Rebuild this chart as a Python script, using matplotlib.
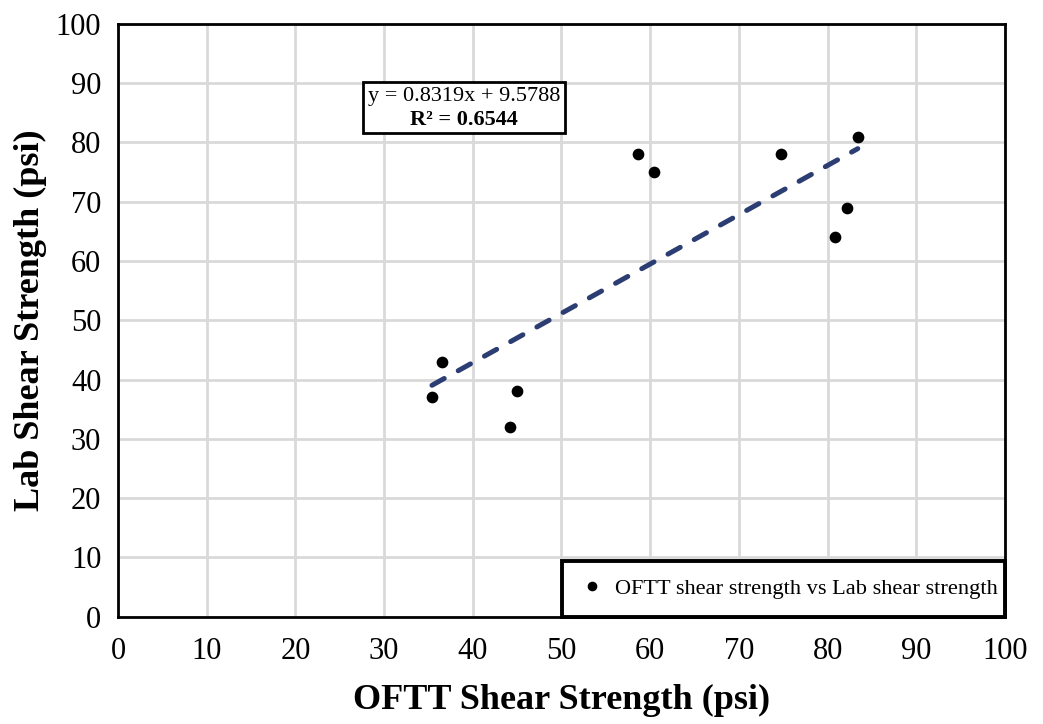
import matplotlib
matplotlib.use("Agg")
import matplotlib.pyplot as plt
from matplotlib.patches import Rectangle
import numpy as np

plt.rcParams['font.family'] = ['Liberation Serif', 'DejaVu Serif']

# OFTT vs lab shear strength measurements (psi)
oftt_psi = [35.4, 36.5, 44.2, 45.0, 58.6, 60.4, 74.7, 80.8, 82.2, 83.4]
lab_psi = [37, 43, 32, 38, 78, 75, 78, 64, 69, 81]

# Linear trendline coefficients
slope = 0.8319
intercept = 9.5788
r_squared = 0.6544

ticks = [0, 10, 20, 30, 40, 50, 60, 70, 80, 90, 100]

fig = plt.figure(figsize=(10.43, 7.24), dpi=100)
ax = fig.add_axes([0.1131, 0.1484, 0.8505, 0.8185])

ax.set_xlim(0, 100)
ax.set_ylim(0, 100)
ax.set_xticks(ticks)
ax.set_yticks(ticks)
ax.grid(True, color='#d9d9d9', linewidth=2)
ax.set_axisbelow(True)
ax.tick_params(length=0, labelsize=22)
ax.tick_params(axis='x', pad=15)
ax.tick_params(axis='y', pad=12)
for sp in ax.spines.values():
    sp.set_linewidth(2)
    sp.set_color('black')

ax.scatter(oftt_psi, lab_psi, s=55, color='black', zorder=3,
           label='OFTT shear strength vs Lab shear strength')

xs = np.array([min(oftt_psi), max(oftt_psi)])
ax.plot(xs, slope * xs + intercept, color='#2b3d72', linewidth=3.6,
        linestyle=(0, (2.8, 3.2)), dash_capstyle='round', zorder=2)

# Trendline equation box
cx, cy = 0.39, 0.8587
ax.text(cx, 0.8775, f"y = {slope:.4f}x + {intercept:.4f}",
        transform=ax.transAxes, ha='center', va='center', fontsize=16)
ax.text(cx, 0.838, f"R\u00b2 = {r_squared:.4f}",
        transform=ax.transAxes, ha='center', va='center', fontsize=16,
        fontweight='bold')
ax.add_patch(Rectangle((cx - 0.1139, cy - 0.0431), 0.2278, 0.0862,
                       transform=ax.transAxes, facecolor='white',
                       edgecolor='black', linewidth=2, zorder=1.5))

# Legend: frame drawn as a box in the lower-right corner, entry inside it
ax.add_patch(Rectangle((0.5006, 0.0), 0.4994, 0.093,
                       transform=ax.transAxes, facecolor='white',
                       edgecolor='black', linewidth=2.8, zorder=4,
                       clip_on=False))
leg = ax.legend(loc='center left', bbox_to_anchor=(0.524, 0.047),
                fontsize=16.1, frameon=False, borderaxespad=0, borderpad=0,
                handletextpad=0.66, handlelength=0.8, markerscale=0.8,
                scatteryoffsets=[0.5])
leg.set_zorder(5)

ax.set_xlabel('OFTT Shear Strength (psi)', fontsize=26, fontweight='bold',
              labelpad=13)
ax.set_ylabel('Lab Shear Strength (psi)', fontsize=26, fontweight='bold',
              labelpad=6)

fig.savefig('out.png', dpi=100)
